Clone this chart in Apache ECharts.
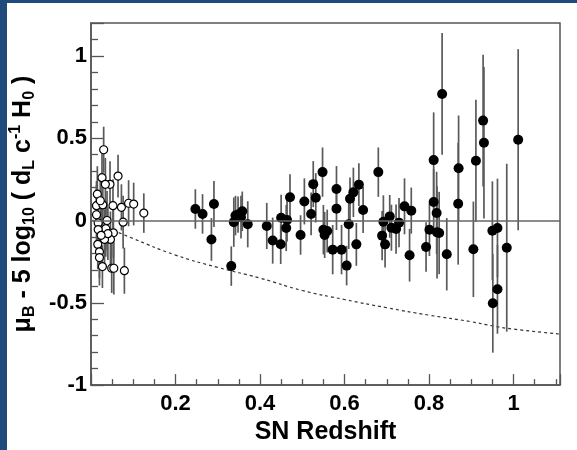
<!DOCTYPE html>
<html>
<head>
<meta charset="utf-8">
<script src="https://cdn.jsdelivr.net/npm/echarts@6/dist/echarts.min.js"></script>
<style>
  html, body { margin: 0; padding: 0; background: #fff; }
  #chart { width: 577px; height: 450px; }
</style>
</head>
<body>
<div id="chart"></div>
<script>
// nearby supernovae (open circles)
var lowZ   = [0.030, 0.026, 0.064, 0.045, 0.034, 0.015, 0.013, 0.028, 0.052, 0.072, 0.089, 0.101, 0.125, 0.076, 0.013, 0.017,
              0.035, 0.053, 0.046, 0.032, 0.016, 0.020, 0.020, 0.027, 0.049, 0.054, 0.079, 0.017, 0.040, 0.022, 0.038, 0.024];
var lowMu  = [0.43, 0.26, 0.27, 0.22, 0.22, 0.16, 0.09, 0.095, 0.09, 0.08, 0.105, 0.10, 0.045, -0.01, 0.035, -0.015,
              -0.05, -0.075, -0.115, -0.115, -0.145, -0.19, -0.225, -0.28, -0.29, -0.29, -0.305, -0.055, -0.08, 0.12, 0.0, -0.09];
var lowErr = [0.14, 0.15, 0.13, 0.14, 0.16, 0.17, 0.15, 0.18, 0.16, 0.14, 0.14, 0.13, 0.12, 0.16, 0.18, 0.20,
              0.17, 0.15, 0.17, 0.18, 0.15, 0.16, 0.17, 0.13, 0.15, 0.16, 0.14, 0.20, 0.16, 0.16, 0.18, 0.20];

// distant supernovae (filled circles)
var highZ   = [0.247, 0.264, 0.291, 0.285, 0.332, 0.338, 0.342, 0.348, 0.358, 0.355, 0.371, 0.416, 0.430, 0.449, 0.450, 0.464,
               0.462, 0.471, 0.496, 0.505, 0.521, 0.526, 0.532, 0.548, 0.550, 0.553, 0.559, 0.572, 0.581, 0.581, 0.593, 0.605,
               0.610, 0.613, 0.621, 0.628, 0.634, 0.644, 0.680, 0.689, 0.692, 0.696, 0.707, 0.711, 0.722, 0.729, 0.742, 0.754,
               0.758, 0.793, 0.801, 0.811, 0.811, 0.818, 0.819, 0.824, 0.831, 0.842, 0.869, 0.870, 0.905, 0.911, 0.928, 0.930,
               0.950, 0.951, 0.962, 0.962, 0.984, 1.011];
var highMu  = [0.07, 0.04, 0.10, -0.115, -0.277, -0.01, 0.03, 0.036, 0.056, 0.02, -0.023, -0.033, -0.122, -0.144, 0.017, 0.003,
               -0.046, 0.141, -0.088, 0.116, 0.040, 0.221, 0.138, 0.294, -0.056, -0.088, -0.064, -0.177, 0.191, 0.072, -0.177, -0.274,
               -0.023, 0.132, 0.171, -0.145, 0.218, 0.064, 0.294, -0.092, -0.007, -0.145, 0.025, -0.044, -0.052, -0.013, 0.086, -0.211,
               0.060, -0.161, -0.056, 0.367, 0.112, 0.046, -0.072, -0.076, 0.769, -0.205, 0.102, 0.318, -0.175, 0.363, 0.607, 0.472,
               -0.062, -0.503, -0.046, -0.418, -0.165, 0.491];
var highErr = [0.12, 0.12, 0.14, 0.13, 0.12, 0.15, 0.12, 0.11, 0.12, 0.13, 0.14, 0.14, 0.14, 0.12, 0.14, 0.13,
               0.14, 0.14, 0.12, 0.14, 0.13, 0.14, 0.15, 0.15, 0.15, 0.14, 0.13, 0.15, 0.14, 0.13, 0.15, 0.12,
               0.15, 0.13, 0.15, 0.13, 0.13, 0.14, 0.15, 0.15, 0.16, 0.14, 0.13, 0.14, 0.15, 0.15, 0.17, 0.16,
               0.14, 0.15, 0.16, 0.29, 0.20, 0.25, 0.28, 0.25, 0.37, 0.22, 0.37, 0.32, 0.29, 0.37, 0.40, 0.46,
               0.30, 0.30, 0.30, 0.27, 0.51, 0.55];

// model curve (dashed)
var curveZ  = [0.04, 0.10, 0.20, 0.30, 0.40, 0.50, 0.60, 0.70, 0.80, 0.90, 0.95, 1.00, 1.11];
var curveMu = [-0.045, -0.11, -0.21, -0.285, -0.35, -0.425, -0.48, -0.53, -0.575, -0.615, -0.64, -0.66, -0.69];

var xTickLabels = ['0.2', '0.4', '0.6', '0.8', '1'];
var yTickLabels = ['-1', '-0.5', '0', '0.5', '1'];

function pts(xs, ys) {
  return xs.map(function (x, i) { return [x, ys[i]]; });
}
function bars(xs, ys, es) {
  return xs.map(function (x, i) { return [x, ys[i] - es[i], ys[i] + es[i]]; });
}
function drawBar(params, api) {
  var lo = api.coord([api.value(0), api.value(1)]);
  var hi = api.coord([api.value(0), api.value(2)]);
  return {
    type: 'line',
    shape: { x1: lo[0], y1: lo[1], x2: hi[0], y2: hi[1] },
    style: { stroke: '#5a5a5a', lineWidth: 1.7 }
  };
}

var chart = echarts.init(document.getElementById('chart'));
var font = 'Liberation Sans, Arial, Helvetica, sans-serif';

var option = {
  backgroundColor: '#fff',
  animation: false,
  graphic: [
    { type: 'rect', shape: { x: 0, y: 0, width: 7, height: 450 }, style: { fill: '#1e4a7c' } },
    { type: 'rect', shape: { x: 0, y: 0, width: 577, height: 3 }, style: { fill: '#1e4a7c' } }
  ],
  grid: {
    left: 88, top: 23, right: 17, bottom: 57,
    show: true, borderColor: '#555', borderWidth: 1.5
  },
  xAxis: {
    type: 'value',
    min: 0, max: 1.11, interval: 0.2,
    name: 'SN Redshift',
    nameLocation: 'middle',
    nameGap: 29,
    nameTextStyle: { fontFamily: font, fontWeight: 'bold', fontSize: 25, color: '#000' },
    axisLine: { onZero: false, lineStyle: { color: '#555', width: 1.5 } },
    axisTick: { inside: true, length: 11, lineStyle: { color: '#555', width: 1.3 } },
    minorTick: { show: true, splitNumber: 4, length: 6, lineStyle: { color: '#555', width: 1.3 } },
    splitLine: { show: false },
    axisLabel: {
      margin: 8, fontFamily: font, fontWeight: 'bold', fontSize: 22, color: '#000',
      formatter: function (v) {
        var s = String(+v.toFixed(2));
        return xTickLabels.indexOf(s) >= 0 ? s : '';
      }
    }
  },
  yAxis: {
    type: 'value',
    min: -1, max: 1.2, interval: 0.5,
    name: '{t|μ}{sub|B}{t| - 5 log}{sub|10}{t| ( d}{sub|L}{t| c}{sup|-1}{t| H}{sub|0}{t| )}',
    nameLocation: 'middle',
    nameGap: 53,
    nameTextStyle: {
      rich: {
        t:   { fontFamily: font, fontWeight: 'bold', fontSize: 25, color: '#000', lineHeight: 30 },
        sub: { fontFamily: font, fontWeight: 'bold', fontSize: 16, color: '#000', lineHeight: 16, verticalAlign: 'bottom' },
        sup: { fontFamily: font, fontWeight: 'bold', fontSize: 16, color: '#000', lineHeight: 16, verticalAlign: 'top' }
      }
    },
    axisLine: { onZero: false, lineStyle: { color: '#555', width: 1.5 } },
    axisTick: { inside: true, length: 13, lineStyle: { color: '#555', width: 1.3 } },
    minorTick: { show: true, splitNumber: 5, length: 7, lineStyle: { color: '#555', width: 1.3 } },
    splitLine: { show: false },
    axisLabel: {
      margin: 4, fontFamily: font, fontWeight: 'bold', fontSize: 22, color: '#000',
      formatter: function (v) {
        var s = String(+v.toFixed(2));
        return yTickLabels.indexOf(s) >= 0 ? s : '';
      }
    }
  },
  series: [
    {
      type: 'line',
      data: pts(curveZ, curveMu),
      smooth: true,
      showSymbol: false,
      lineStyle: { color: '#333', width: 1.2, type: [3, 3] },
      markLine: {
        silent: true,
        symbol: 'none',
        label: { show: false },
        lineStyle: { color: '#666', width: 1.6, type: 'solid' },
        data: [{ yAxis: 0 }]
      },
      z: 1
    },
    {
      type: 'custom',
      renderItem: drawBar,
      data: bars(lowZ, lowMu, lowErr),
      z: 2
    },
    {
      type: 'custom',
      renderItem: drawBar,
      data: bars(highZ, highMu, highErr),
      z: 2
    },
    {
      type: 'scatter',
      data: pts(lowZ, lowMu),
      symbol: 'circle',
      symbolSize: 8,
      itemStyle: { color: '#fff', borderColor: '#000', borderWidth: 1.2, opacity: 1 },
      z: 3
    },
    {
      type: 'scatter',
      data: pts(highZ, highMu),
      symbol: 'circle',
      symbolSize: 10,
      itemStyle: { color: '#000', opacity: 1 },
      z: 3
    }
  ]
};

chart.setOption(option);
</script>
</body>
</html>
